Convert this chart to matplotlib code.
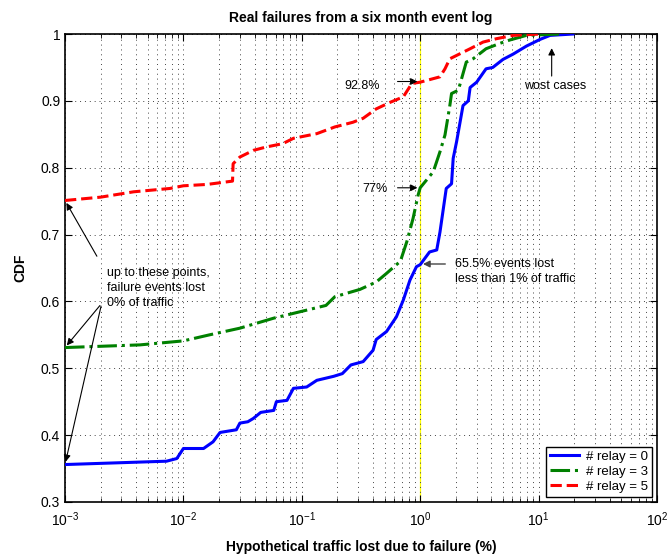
import matplotlib
matplotlib.use('Agg')
import matplotlib.pyplot as plt

plt.rcParams['font.family'] = ['Liberation Sans', 'DejaVu Sans']

# relay = 0
x_r0 = [1e-3, 7.2e-3, 8.8e-3, 1e-2, 0.0148, 0.0178, 0.0204, 0.028, 0.030, 0.035, 0.039,
        0.045, 0.058, 0.061, 0.075, 0.085, 0.11, 0.134, 0.186, 0.22, 0.26, 0.33, 0.40,
        0.425, 0.52, 0.63, 0.72, 0.82, 0.93, 1.0, 1.2, 1.38, 1.47, 1.66, 1.84, 1.9, 2.03,
        2.3, 2.55, 2.64, 3.0, 3.6, 4.1, 5.0, 6.1, 7.9, 10.3, 12.5, 19.5]
y_r0 = [0.356, 0.361, 0.365, 0.380, 0.380, 0.390, 0.404, 0.408, 0.418, 0.420, 0.425,
        0.434, 0.437, 0.450, 0.452, 0.470, 0.472, 0.482, 0.488, 0.492, 0.505, 0.510, 0.527,
        0.543, 0.555, 0.577, 0.602, 0.632, 0.652, 0.655, 0.674, 0.677, 0.704, 0.769, 0.776, 0.814, 0.839,
        0.893, 0.900, 0.920, 0.928, 0.948, 0.950, 0.962, 0.970, 0.982, 0.992, 0.998, 1.0]

# relay = 3
x_r3 = [1e-3, 4.3e-3, 0.01, 0.0166, 0.03, 0.058, 0.11, 0.16, 0.19, 0.31, 0.425, 0.52,
        0.63, 0.68, 0.77, 0.87, 0.96, 1.0, 1.29, 1.47, 1.62, 1.78, 1.84, 2.1, 2.45, 2.8,
        3.6, 4.7, 5.7, 7.9, 15]
y_r3 = [0.531, 0.535, 0.541, 0.550, 0.560, 0.575, 0.587, 0.594, 0.607, 0.618, 0.629, 0.642,
        0.655, 0.660, 0.689, 0.724, 0.759, 0.770, 0.794, 0.824, 0.849, 0.893, 0.911, 0.916, 0.958, 0.963,
        0.978, 0.986, 0.991, 0.998, 1.0]

# relay = 5
x_r5 = [1e-3, 2e-3, 3.8e-3, 7.7e-3, 0.01, 0.0158, 0.026, 0.0263, 0.030, 0.039, 0.050,
        0.069, 0.085, 0.134, 0.19, 0.27, 0.33, 0.425, 0.56, 0.72, 0.85, 1.0, 1.47, 1.62,
        1.78, 2.03, 2.64, 3.4, 4.4, 6.1, 10.3]
y_r5 = [0.751, 0.756, 0.764, 0.769, 0.773, 0.775, 0.780, 0.806, 0.816, 0.826, 0.831,
        0.836, 0.844, 0.851, 0.861, 0.868, 0.874, 0.888, 0.898, 0.906, 0.926, 0.928, 0.936, 0.948,
        0.963, 0.968, 0.978, 0.988, 0.993, 0.998, 1.0]

fig = plt.figure(figsize=(6.68, 5.58), dpi=100)
ax = fig.add_axes([0.0973, 0.1004, 0.8862, 0.8386])

ax.axvline(1, color='yellow', lw=0.9, zorder=1)
ax.plot(x_r0, y_r0, '-', color='blue', lw=2.2, label='# relay = 0', zorder=3)
ax.plot(x_r3, y_r3, '-.', color='green', lw=2.2, label='# relay = 3', zorder=3)
ax.plot(x_r5, y_r5, '--', color='red', lw=2.2, label='# relay = 5', zorder=3)

ax.set_xscale('log')
ax.set_xlim(1e-3, 1e2)
ax.set_ylim(0.3, 1.0)
ax.set_yticks([0.3, 0.4, 0.5, 0.6, 0.7, 0.8, 0.9, 1.0])
ax.set_yticklabels(['0.3', '0.4', '0.5', '0.6', '0.7', '0.8', '0.9', '1'])
grid_style = dict(linestyle=(0, (1, 4)), color='#444444', lw=0.7)
ax.grid(True, which='major', **grid_style)
ax.grid(True, which='minor', axis='x', **grid_style)
ax.tick_params(which='both', direction='in', top=True, right=True, labelsize=10)
ax.tick_params(which='major', length=5)
ax.tick_params(which='minor', length=3)
ax.tick_params(axis='x', pad=6)
for s in ax.spines.values():
    s.set_linewidth(1.2)

ax.set_title('Real failures from a six month event log', fontsize=10, fontweight='bold', pad=9)
ax.set_xlabel('Hypothetical traffic lost due to failure (%)', fontsize=10, fontweight='bold', labelpad=8)
ax.set_ylabel('CDF', fontsize=10, fontweight='bold', labelpad=10)

arrow = dict(arrowstyle='-|>', color='black', lw=0.8, mutation_scale=10)
ax.annotate('', xy=(1.0, 0.929), xytext=(0.61, 0.929), arrowprops=arrow)
ax.text(0.46, 0.923, '92.8%', fontsize=9, ha='right', va='center')
ax.annotate('', xy=(1.0, 0.77), xytext=(0.61, 0.77), arrowprops=arrow)
ax.text(0.53, 0.768, '77%', fontsize=9, ha='right', va='center')
ax.annotate('', xy=(1.0, 0.656), xytext=(1.72, 0.656),
            arrowprops=dict(arrowstyle='-|>', color='#444444', lw=1.0, mutation_scale=10))
ax.text(1.98, 0.645, '65.5% events lost\nless than 1% of traffic', fontsize=9,
        ha='left', va='center', linespacing=1.3)
ax.annotate('', xy=(12.9, 0.983), xytext=(12.9, 0.933), arrowprops=arrow)
ax.text(13.9, 0.922, 'wost cases', fontsize=9, ha='center', va='center')

ax.text(2.25e-3, 0.620, 'up to these points,\nfailure events lost\n0% of traffic', fontsize=9,
        ha='left', va='center', linespacing=1.3)
ax.annotate('', xy=(1.0e-3, 0.751), xytext=(1.91e-3, 0.664), arrowprops=arrow)
ax.annotate('', xy=(1.0e-3, 0.531), xytext=(2.04e-3, 0.597), arrowprops=arrow)
ax.annotate('', xy=(1.0e-3, 0.356), xytext=(2.04e-3, 0.597), arrowprops=arrow)

leg = ax.legend(loc='lower right', fontsize=9.5, fancybox=False, framealpha=1,
                edgecolor='black', borderaxespad=0.4, handlelength=2.2,
                labelspacing=0.2, borderpad=0.3, handletextpad=0.5)
leg.get_frame().set_linewidth(1.0)

fig.savefig('out.png', dpi=100)
